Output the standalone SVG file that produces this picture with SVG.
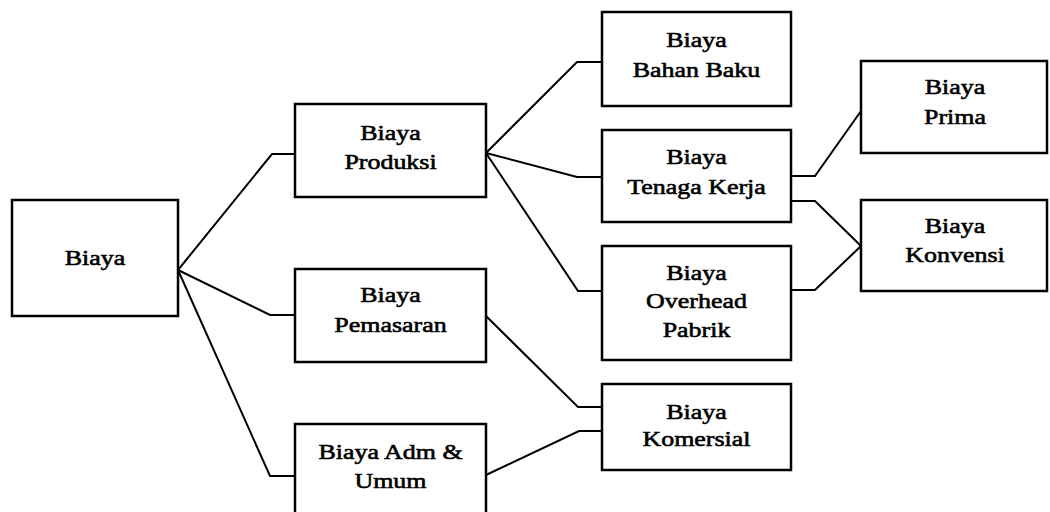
<svg xmlns="http://www.w3.org/2000/svg" width="1050" height="512" viewBox="0 0 1050 512">
<style>
.box{fill:#fff;stroke:#000;stroke-width:2.5}
.lbl{font-family:"Liberation Serif","Times New Roman",serif;font-size:22px;fill:#000;stroke:#000;stroke-width:0.6;text-anchor:middle}
.con{fill:none;stroke:#000;stroke-width:2;stroke-linejoin:miter}
</style>
<rect width="1050" height="512" fill="#fff"/>
<g id="connectors">
<path class="con" d="M178,270 L272,154 L295,154"/>
<path class="con" d="M178,270 L270,315 L295,315"/>
<path class="con" d="M178,270 L270,476 L295,476"/>
<path class="con" d="M486,153 L577,62 L602,62"/>
<path class="con" d="M486,153 L577,177 L602,177"/>
<path class="con" d="M486,153 L578,291 L602,291"/>
<path class="con" d="M486,316 L578,407 L602,407"/>
<path class="con" d="M486,475 L579,431 L602,431"/>
<path class="con" d="M791,176 L815,176 L861,111"/>
<path class="con" d="M791,201 L815,201 L861,246"/>
<path class="con" d="M791,290 L815,290 L861,246"/>
</g>
<g id="biaya">
<rect class="box" x="12" y="200" width="166" height="116"/>
<text class="lbl" transform="matrix(1.18 0 0 1 95 0)" x="0" y="265">Biaya</text>
</g>
<g id="produksi">
<rect class="box" x="295" y="104" width="191" height="93"/>
<text class="lbl" transform="matrix(1.18 0 0 1 390.5 0)" x="0" y="140">Biaya</text>
<text class="lbl" transform="matrix(1.18 0 0 1 390.5 0)" x="0" y="169">Produksi</text>
</g>
<g id="pemasaran">
<rect class="box" x="295" y="269" width="191" height="93"/>
<text class="lbl" transform="matrix(1.18 0 0 1 390.5 0)" x="0" y="302">Biaya</text>
<text class="lbl" transform="matrix(1.18 0 0 1 390.5 0)" x="0" y="332">Pemasaran</text>
</g>
<g id="adm">
<rect class="box" x="295" y="424" width="191" height="110"/>
<text class="lbl" transform="matrix(1.18 0 0 1 390.5 0)" x="0" y="459">Biaya Adm &amp;</text>
<text class="lbl" transform="matrix(1.18 0 0 1 390.5 0)" x="0" y="488">Umum</text>
</g>
<g id="bahanbaku">
<rect class="box" x="602" y="12" width="189" height="94"/>
<text class="lbl" transform="matrix(1.18 0 0 1 696.5 0)" x="0" y="47">Biaya</text>
<text class="lbl" transform="matrix(1.18 0 0 1 696.5 0)" x="0" y="77">Bahan Baku</text>
</g>
<g id="tenagakerja">
<rect class="box" x="602" y="130" width="189" height="92"/>
<text class="lbl" transform="matrix(1.18 0 0 1 696.5 0)" x="0" y="164">Biaya</text>
<text class="lbl" transform="matrix(1.18 0 0 1 696.5 0)" x="0" y="194">Tenaga Kerja</text>
</g>
<g id="overhead">
<rect class="box" x="602" y="246" width="189" height="114"/>
<text class="lbl" transform="matrix(1.18 0 0 1 696.5 0)" x="0" y="280">Biaya</text>
<text class="lbl" transform="matrix(1.18 0 0 1 696.5 0)" x="0" y="308">Overhead</text>
<text class="lbl" transform="matrix(1.18 0 0 1 696.5 0)" x="0" y="337">Pabrik</text>
</g>
<g id="komersial">
<rect class="box" x="602" y="384" width="189" height="86"/>
<text class="lbl" transform="matrix(1.18 0 0 1 696.5 0)" x="0" y="419">Biaya</text>
<text class="lbl" transform="matrix(1.18 0 0 1 696.5 0)" x="0" y="446">Komersial</text>
</g>
<g id="prima">
<rect class="box" x="861" y="61" width="186" height="92"/>
<text class="lbl" transform="matrix(1.18 0 0 1 955 0)" x="0" y="94">Biaya</text>
<text class="lbl" transform="matrix(1.18 0 0 1 955 0)" x="0" y="124">Prima</text>
</g>
<g id="konvensi">
<rect class="box" x="861" y="200" width="186" height="91"/>
<text class="lbl" transform="matrix(1.18 0 0 1 955 0)" x="0" y="233">Biaya</text>
<text class="lbl" transform="matrix(1.18 0 0 1 955 0)" x="0" y="262">Konvensi</text>
</g>
</svg>
